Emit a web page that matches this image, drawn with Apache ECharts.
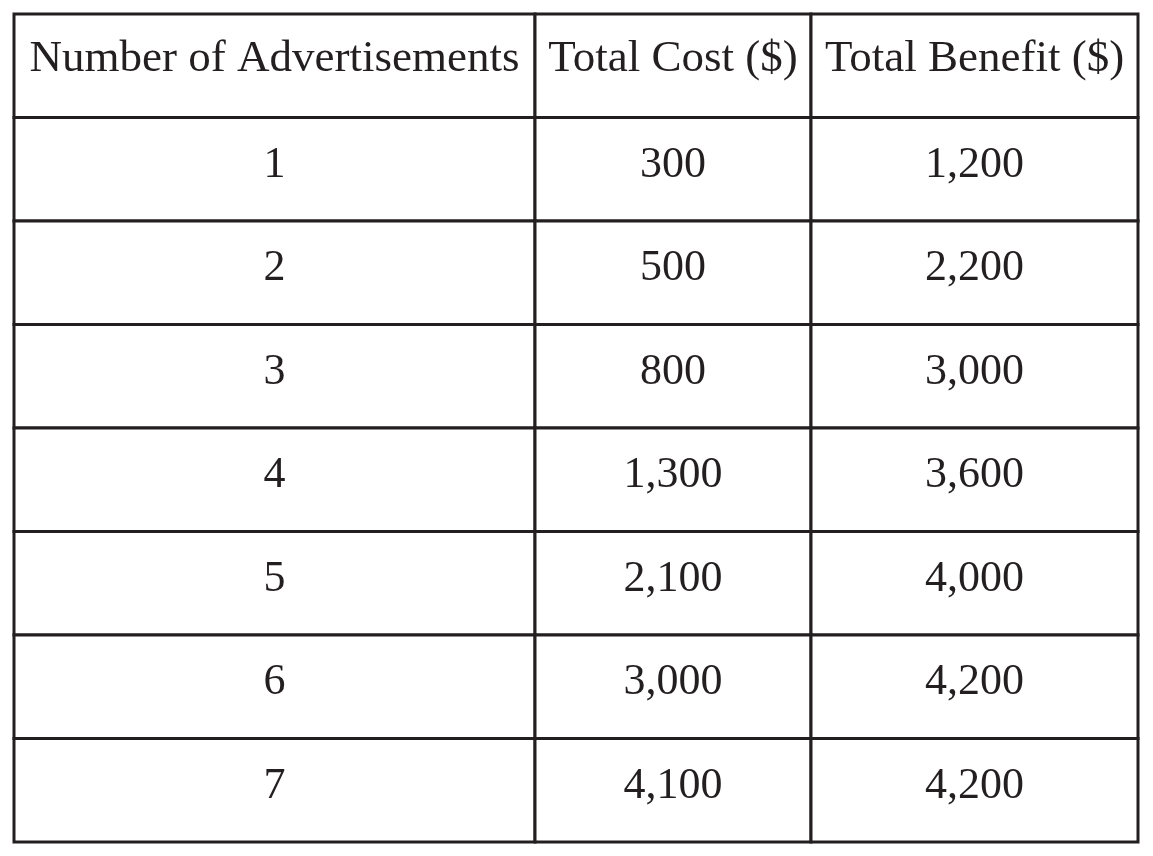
<!DOCTYPE html>
<html><head><meta charset="utf-8">
<script src="https://cdn.jsdelivr.net/npm/echarts@6/dist/echarts.min.js"></script>
<style>html,body{margin:0;padding:0;background:#fff}#c{width:1153px;height:856px}</style>
</head><body><div id="c"></div>
<script>
const headers = ['Number of Advertisements', 'Total Cost ($)', 'Total Benefit ($)'];
const ads = ['1','2','3','4','5','6','7'];
const totalCost = ['300','500','800','1,300','2,100','3,000','4,100'];
const totalBenefit = ['1,200','2,200','3,000','3,600','4,000','4,200','4,200'];

const colEdges = [0, 521, 797, 1124];
const cells = [];
headers.forEach((h, c) => cells.push([c, 0, h]));
ads.forEach((a, i) => {
  cells.push([0, i + 1, a]);
  cells.push([1, i + 1, totalCost[i]]);
  cells.push([2, i + 1, totalBenefit[i]]);
});

const chart = echarts.init(document.getElementById('c'));
chart.setOption({
  animation: false,
  grid: { left: 14, top: 14, width: 1124, height: 828 },
  xAxis: { type: 'value', min: 0, max: 1124, show: false },
  yAxis: { type: 'value', min: 0, max: 8, inverse: true, show: false },
  series: [{
    type: 'custom',
    data: cells,
    renderItem: function (params, api) {
      const c = api.value(0), r = api.value(1);
      const p0 = api.coord([colEdges[c], r]);
      const p1 = api.coord([colEdges[c + 1], r + 1]);
      const txt = cells[params.dataIndex][2];
      return {
        type: 'group',
        children: [
          { type: 'rect', shape: { x: p0[0], y: p0[1], width: p1[0] - p0[0], height: p1[1] - p0[1] },
            style: { fill: '#fff', stroke: '#231f20', lineWidth: 3 } },
          { type: 'text', style: { text: txt, x: (p0[0] + p1[0]) / 2, y: (p0[1] + p1[1]) / 2 - (r === 0 ? 7 : 4),
            align: 'center', verticalAlign: 'middle', fill: '#231f20',
            font: (r === 0 ? '45px' : '44px') + ' "Liberation Serif", "DejaVu Serif", serif' } }
        ]
      };
    }
  }]
});
</script></body></html>
